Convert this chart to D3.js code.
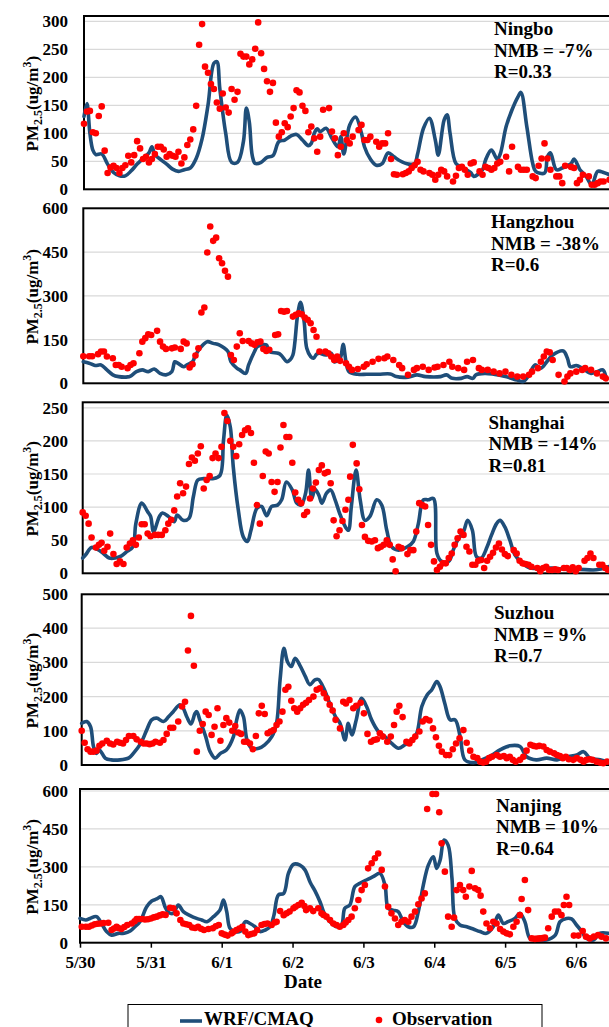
<!DOCTYPE html>
<html>
<head>
<meta charset="utf-8">
<script src="https://cdn.jsdelivr.net/npm/d3@7"></script>
<style>
body { margin: 0; background: #fff; }
svg text { font-family: "Liberation Serif", "Times New Roman", serif; font-weight: bold; fill: #000; }
</style>
</head>
<body>
<svg id="chart" width="609" height="1027"></svg>
<script>
// x values are hours after 5/30 00:00
const dateLabels = ["5/30", "5/31", "6/1", "6/2", "6/3", "6/4", "6/5", "6/6"];
const stations = ["Ningbo", "Hangzhou", "Shanghai", "Suzhou", "Nanjing"];
const nmbLabels = ["NMB = -7%", "NMB = -38%", "NMB = -14%", "NMB = 9%", "NMB = 10%"];
const rLabels = ["R=0.33", "R=0.6", "R=0.81", "R=0.7", "R=0.64"];
const yMax = [300, 600, 250, 500, 600];
const yStep = [50, 150, 50, 100, 150];

const ningboModel = [[0,130],[1,153],[2,100],[3,70],[4,62],[6,63],[8,45],[10,30],[12,24],[14,24],[16,33],[18,45],[20,55],[22,65],[23,76],[24,62],[26,53],[28,45],[30,36],[32,32],[34,35],[36,38],[38,55],[40,90],[42,150],[44,225],[45,228],[46,180],[48,100],[50,48],[52,48],[54,85],[55,145],[56,120],[57,60],[58,46],[60,48],[62,57],[64,60],[66,85],[68,88],[70,95],[72,98],[74,88],[76,78],[77,82],[78,100],[79,108],[80,103],[82,109],[84,91],[86,76],[87,94],[88,63],[90,115],[92,129],[94,100],[95,76],[97,54],[99,43],[101,46],[103,65],[105,58],[107,51],[110,45],[112,46],[113,63],[115,109],[117,127],[119,88],[120,61],[122,124],[123,133],[124,100],[126,46],[128,40],[131,30],[132,23],[135,35],[136,52],[138,70],[140,54],[141,63],[143,112],[145,142],[147,165],[148,173],[150,112],[152,46],[153,32],[156,29],[157,58],[158,65],[160,35],[162,38],[165,46],[166,54],[168,35],[170,24],[172,8],[174,32],[176,30],[178,26]];
const ningboObs = [[0,117],[1,139],[2,140],[3,102],[4,100],[5,131],[6,148],[7,69],[8,29],[9,39],[10,42],[11,38],[12,29],[13,38],[14,43],[15,60],[16,48],[17,61],[18,86],[19,73],[20,54],[21,58],[22,48],[23,54],[24,63],[25,76],[26,76],[27,71],[28,58],[29,63],[30,60],[31,58],[32,67],[33,46],[34,57],[35,79],[36,89],[37,107],[38,149],[39,258],[40,295],[41,219],[42,208],[43,188],[44,179],[45,155],[46,144],[47,171],[48,146],[49,137],[50,179],[51,160],[52,174],[53,242],[54,237],[55,237],[56,223],[57,232],[58,251],[59,298],[60,243],[61,215],[62,193],[63,174],[64,190],[65,119],[66,94],[67,102],[68,118],[69,111],[70,130],[71,145],[72,177],[73,173],[74,149],[75,140],[76,102],[77,112],[78,91],[79,67],[80,94],[81,142],[83,145],[84,103],[85,91],[86,61],[87,76],[88,100],[89,88],[90,82],[91,94],[93,106],[94,115],[95,88],[96,88],[97,94],[99,85],[100,76],[101,82],[102,82],[103,100],[104,54],[105,27],[106,26],[108,27],[109,29],[110,32],[111,38],[112,43],[113,49],[114,35],[115,32],[117,29],[118,26],[119,17],[120,26],[121,35],[122,32],[123,23],[125,14],[126,24],[127,38],[128,40],[129,35],[130,26],[131,46],[132,48],[134,32],[135,26],[136,40],[137,38],[138,35],[139,38],[140,46],[141,49],[143,58],[144,32],[145,76],[147,40],[148,35],[149,35],[150,35],[152,23],[153,20],[154,42],[155,55],[156,82],[157,55],[158,35],[160,23],[161,23],[162,11],[163,42],[165,40],[166,38],[167,11],[168,17],[169,26],[171,23],[172,8],[173,8],[174,11],[175,14],[176,14],[178,17]];

const hangzhouModel = [[0,74],[2,69],[4,61],[6,63],[8,46],[10,29],[12,23],[15,22],[16,25],[18,40],[20,46],[22,40],[24,49],[26,34],[28,29],[30,40],[31,74],[32,69],[34,57],[35,63],[37,74],[38,97],[40,126],[42,143],[44,137],[46,132],[49,109],[50,74],[52,52],[53,46],[55,34],[56,63],[58,109],[59,126],[62,132],[63,109],[66,103],[67,97],[69,74],[70,80],[71,97],[72.6,235],[73.6,278],[74.8,212],[75.7,120],[77,92],[78,86],[79,100],[80,103],[82,97],[84,103],[85,74],[87,86],[88,134],[89,74],[90,40],[93,31],[96,31],[100,31],[104,32],[106,23],[110,21],[113,29],[116,23],[121,23],[123,29],[125,17],[128,17],[130,23],[132,17],[133,29],[136,34],[139,31],[143,23],[147,11],[149,6],[151,29],[153,63],[155,52],[157,74],[159,97],[162.6,111],[164,86],[165,57],[167,61],[169,52],[172,34],[174,40],[176,46],[177,23]];
const hangzhouObs = [[0,93],[2,93],[3,93],[5,100],[6,109],[7,109],[8,92],[10,86],[11,63],[12,63],[13,57],[15,52],[16,63],[17,69],[19,103],[20,143],[21,155],[22,168],[23,166],[25,180],[26,143],[27,126],[28,118],[30,120],[31,123],[33,118],[34,143],[35,137],[36,54],[37,65],[38,95],[39,120],[40,243],[41,260],[42,449],[43,538],[44,489],[45,500],[46,429],[47,412],[48,386],[49,366],[50,97],[51,80],[52,126],[53,172],[54,145],[56,145],[57,137],[58,132],[59,141],[60,143],[61,118],[62,111],[63,115],[65,166],[66,168],[67,248],[68,246],[69,248],[71,229],[72,235],[73,240],[74,237],[75,226],[76,218],[77,206],[78,183],[79,160],[80,109],[82,109],[83,103],[84,92],[85,80],[86,92],[87,77],[89,69],[90,57],[91,46],[93,49],[95,57],[96,65],[98,74],[100,84],[102,86],[103,92],[105,80],[107,63],[108,52],[110,29],[112,46],[113,52],[115,57],[117,46],[119,54],[120,57],[122,63],[124,74],[125,57],[127,52],[129,46],[130,74],[132,80],[134,52],[135,46],[137,46],[139,40],[141,34],[143,40],[145,29],[147,23],[149,23],[151,29],[152,40],[154,52],[155,74],[156,92],[157,109],[158,106],[159,80],[161,29],[163,6],[164,23],[165,34],[167,40],[169,46],[170,52],[172,46],[174,34],[176,23],[177,17]];

const shanghaiModel = [[0,23],[1,28],[3,39],[5,36],[7,30],[9,23],[11,23],[13,26],[15,33],[17,40],[18,75],[20,106],[22,93],[23,86],[24,63],[26,86],[27,91],[29,86],[31,78],[32,88],[34,80],[36,83],[37.5,116],[39,141],[41,143],[44,143],[46.5,148],[47.7,201],[48.8,239],[50,221],[51,161],[52.7,96],[54.4,55],[55.8,48],[57,65],[59,98],[60.6,101],[62.3,87],[64,101],[66,103],[67.4,111],[69,138],[71,126],[72.5,106],[74,103],[75.5,121],[76.5,156],[77.6,113],[78.7,127],[80,118],[81,106],[82.6,121],[84,126],[85.5,111],[87,91],[89,70],[90,65],[91,101],[92.6,156],[94,111],[95.6,80],[97.3,86],[99.6,111],[101.3,103],[103,65],[104.7,40],[107,35],[110,40],[112,48],[113.7,75],[115.4,111],[117,111],[118.8,113],[120,30],[121.6,18],[124,18],[125.5,35],[127,50],[129,63],[130.4,80],[132,65],[133.4,25],[135,23],[137,40],[138.5,58],[140.2,75],[141.4,80],[143,70],[144.7,50],[146.4,28],[149,15],[151.5,8],[155,8],[159,8],[164,6],[168,6],[173,5],[175,6],[178,10]];
const shanghaiObs = [[0,92],[1,87],[2,75],[3,54],[4.5,39],[5.5,43],[6.4,46],[7.3,34],[8.4,40],[9.3,60],[10.4,29],[11.5,14],[12.6,18],[13.8,14],[14.9,39],[16,45],[17,50],[18,43],[19,54],[20,74],[21,74],[22,60],[23,56],[24.5,58],[25.6,58],[26.8,58],[28,65],[29,75],[30,81],[31,95],[32,116],[33,136],[34,121],[35,131],[36,165],[37,175],[38,170],[39,181],[40,192],[41,128],[42,141],[43,147],[44,174],[45,181],[46,174],[47,191],[48,242],[49,230],[50,200],[51,191],[52,177],[53,195],[54,209],[55,216],[56,219],[57,212],[58,167],[59,103],[60,75],[61,147],[62,184],[63,181],[64,138],[65,123],[66,138],[67,190],[68,224],[69,206],[70,206],[71,167],[72,122],[73,111],[74,106],[75,88],[76,93],[77,113],[78,128],[79,137],[80,156],[81,163],[82,151],[83,153],[84,136],[85,80],[86,56],[87,65],[88,79],[89,96],[90,111],[90.6,146],[91.5,194],[92.8,166],[93.7,127],[94.6,73],[95.6,55],[96.7,49],[97.9,48],[99,50],[100,38],[101,40],[102,43],[103,50],[104,43],[105,21],[106,3],[107,40],[108,38],[110,29],[111,35],[112,35],[113,63],[114,106],[115,103],[116,101],[117,73],[118,43],[119,18],[120,5],[121,10],[122,15],[123,15],[124,23],[125,30],[126,43],[127,53],[128,63],[129,58],[130,40],[131,33],[132,13],[133,13],[134,19],[135,20],[136,8],[137,19],[138,25],[139,31],[140,39],[141,45],[142,36],[143,29],[144,26],[146,35],[147,30],[148,19],[149,15],[150,14],[151,13],[152,10],[154,8],[155,3],[156,8],[157,10],[158,5],[159,5],[160,6],[161,5],[163,8],[164,8],[165,5],[166,9],[167,3],[168,8],[170,19],[171,23],[172,30],[173,23],[175,13],[176,13],[177,8],[178,5]];

const suzhouModel = [[0,122],[1.7,127],[3,112],[4,54],[5,34],[6,44],[8,20],[10,15],[13,15],[16,21],[17.5,34],[20,63],[22,102],[23.7,132],[25.4,137],[27.7,127],[29.4,141],[31,156],[33.3,176],[34.4,166],[35.6,141],[37,120],[38.4,151],[39,156],[40,132],[42,83],[43.5,39],[45.2,20],[47,34],[49,44],[51.4,83],[52.5,132],[53.6,161],[54.8,141],[56,73],[57.6,49],[60,49],[62,59],[64.4,83],[66,122],[67.2,249],[68.5,341],[69.7,302],[71,288],[72.3,312],[74,290],[75.7,260],[77.3,235],[79,249],[80.2,250],[82,224],[84,180],[86,141],[87.5,122],[89.2,73],[90.3,122],[91.5,88],[93,132],[94.8,195],[96.5,171],[98.2,132],[100.5,98],[102.7,83],[105,63],[107.3,49],[109.5,59],[111.8,73],[113.5,93],[115.2,171],[117,205],[118.6,220],[120.3,244],[121.4,229],[123,180],[124.8,132],[126.5,132],[128.2,83],[129.8,15],[132.7,7],[135.5,15],[139,29],[141.7,44],[145,56],[148.5,54],[150.7,24],[154,15],[157.5,20],[161,15],[164.3,24],[167.7,29],[170,39],[172.2,20],[175.6,15],[178.4,7]];
const suzhouObs = [[0,100],[1,65],[2,46],[3,39],[4,39],[5,42],[6,56],[7,63],[8.5,71],[9.6,63],[10.7,60],[12,68],[13,65],[14,63],[15,73],[16,85],[17.5,85],[18.6,75],[20,68],[21,63],[22,63],[23,61],[24,63],[25,68],[26.5,65],[27.7,73],[28.8,91],[30,109],[31,109],[32.7,127],[34,171],[35,185],[36,335],[37,436],[38,290],[39,39],[40,100],[41,120],[42,156],[43,146],[44,88],[45,112],[46,166],[47,71],[48,117],[49,137],[50,124],[51,100],[52,114],[53,95],[54,91],[55,68],[56,68],[57,63],[58,46],[59,85],[60,151],[61,173],[62,149],[63,93],[64,98],[65,102],[66,117],[67,127],[68,156],[69,220],[70,229],[71,188],[72,166],[73,156],[74,166],[75,176],[76,182],[77,190],[78.5,200],[79.6,220],[80.7,224],[82,210],[83,195],[84,176],[85,159],[86,132],[87.5,107],[88.6,185],[89.5,180],[90.7,190],[92,166],[93,173],[94.5,182],[95.6,151],[96.8,91],[98,68],[99,73],[100,75],[101,93],[102,83],[103.5,68],[104.7,83],[105.8,117],[106.7,156],[107.6,173],[108.7,140],[110,68],[111,63],[112,73],[113,83],[114.4,98],[115.5,127],[116.6,134],[117.8,130],[119,107],[120,81],[121,56],[122,39],[123.4,29],[124.5,29],[125.7,46],[126.8,63],[128,78],[129.3,102],[130.4,65],[131.6,42],[132.7,24],[134,20],[135,10],[136,7],[137,10],[138,20],[139,24],[140.6,29],[141.7,24],[143,26],[144,20],[145,24],[146,15],[147,10],[148.5,15],[149.6,24],[150.7,42],[152,59],[153,56],[154,54],[155,56],[156.4,54],[157.5,44],[158.6,39],[160,34],[161,29],[162,26],[163,20],[164,24],[165,17],[166.5,15],[167.7,20],[169,15],[170,10],[171,15],[172,17],[173,15],[174.4,10],[175.6,7],[176.7,5],[178,10]];

const nanjingModel = [[0,96],[2,90],[3.4,96],[5.6,103],[7.3,76],[9,44],[10.7,30],[13,37],[15,37],[17,46],[18.6,63],[20.3,83],[22.6,142],[24.3,165],[26,173],[27.4,182],[28.8,142],[30,120],[31.6,116],[33.3,149],[35,123],[37.3,107],[39.5,96],[41.2,90],[43,83],[45.2,103],[47.4,129],[48.6,169],[49.7,123],[50.8,57],[52.5,44],[54.2,44],[56,83],[57.6,76],[59.3,63],[61,44],[62.7,50],[64.4,63],[65.7,109],[67.2,189],[69,195],[70.6,274],[72.3,310],[74.5,307],[76.2,288],[78,238],[79.6,205],[81.3,162],[83,109],[84.7,83],[87,63],[88.6,70],[89.7,136],[91.4,149],[93.1,222],[94.8,235],[97,248],[99.3,261],[101.6,274],[103.3,228],[104.4,136],[106,129],[107.8,123],[109.5,83],[111.2,63],[113,63],[114.6,123],[116.3,228],[118,307],[119.7,340],[120.8,294],[122,327],[123.3,406],[124.7,386],[126,255],[127,96],[128.7,70],[131,63],[133.2,54],[135.5,44],[137.7,37],[140,63],[141.7,109],[143.4,76],[145,83],[147.3,96],[149,116],[150.7,83],[152.4,17],[154.7,11],[158,11],[161,30],[162.6,83],[164.8,96],[166.5,94],[168.2,70],[170,44],[171.6,17],[174,11],[176,37],[179,37]];
const nanjingObs = [[0.6,63],[2,63],[3,63],[4,68],[5,73],[6,75],[7,76],[8,78],[9.6,79],[10.7,50],[11.5,56],[12.4,63],[13,58],[14,54],[15,62],[16,70],[17.5,76],[18.5,85],[19.2,94],[20,94],[21,94],[22,92],[23,93],[24,96],[25,100],[26,103],[27,108],[28,112],[29,110],[30.5,138],[31.6,136],[32.7,116],[34,90],[35,76],[36,73],[37,70],[38,60],[39,58],[40,63],[41,55],[42,50],[43.5,54],[45,57],[46,65],[47,70],[48,37],[49,32],[50,28],[51.4,37],[52,43],[53,50],[54,56],[55,63],[56,44],[57,30],[58,34],[59,37],[60,50],[61.5,70],[62.5,74],[63.5,76],[64.9,70],[66,80],[66.6,83],[67.8,125],[69,109],[70,116],[71,123],[72.3,136],[73,142],[74,149],[75.1,158],[76,145],[76.6,129],[77.9,136],[79,125],[80.7,136],[81.8,116],[82.5,110],[83.5,103],[84.7,90],[85.8,76],[86.9,70],[88,63],[89.2,70],[90,80],[90.9,90],[92,103],[93.1,136],[94.3,169],[95.4,208],[96.5,228],[97.6,294],[98.8,314],[99.9,334],[101,353],[102.2,288],[103.3,222],[104.4,142],[105.5,116],[106.7,96],[107.8,70],[108.9,83],[110,90],[111.2,83],[112.3,103],[113.5,123],[114.6,152],[115.7,175],[116.8,195],[117.6,529],[119.4,588],[120.6,588],[121.7,516],[122.5,393],[123.6,281],[124.7,103],[125.9,63],[126.7,99],[127.6,208],[128.7,228],[129.8,208],[130.7,182],[131.9,222],[132.7,284],[133.8,215],[134.9,208],[135.7,186],[136.6,123],[137.7,76],[138.9,57],[140,83],[141.1,76],[142.3,54],[143.4,44],[144.5,37],[145.6,33],[146.8,63],[147.9,83],[149,109],[149.6,173],[150.7,248],[151.8,129],[153,17],[154.1,15],[155,16],[155.8,17],[156.7,18],[157.5,20],[158.6,57],[159.8,103],[160.9,123],[162,123],[163.1,109],[163.9,149],[164.8,182],[165.7,149],[167.3,28],[168.8,28],[170.3,46],[171.4,24],[172.7,17],[174.1,24],[175.5,30],[176.7,24],[178.2,17]];

const modelSeries = [ningboModel, hangzhouModel, shanghaiModel, suzhouModel, nanjingModel];
const obsSeries = [ningboObs, hangzhouObs, shanghaiObs, suzhouObs, nanjingObs];

// panel placement in the page (pixels)
const panels = [
    { left: 84,   frameTop: 16,    top: 21.3,  bottom: 189.3, textX: 494, textY: 35 },
    { left: 83.3, frameTop: 208.3, top: 208.5, bottom: 383.3, textX: 491, textY: 228 },
    { left: 82.7, frameTop: 402.3, top: 407.8, bottom: 573.3, textX: 488.5, textY: 428.5 },
    { left: 81.7, frameTop: 594.3, top: 594,   bottom: 765,   textX: 494, textY: 619 },
    { left: 80,   frameTop: 789,   top: 791,   bottom: 942.7, textX: 496, textY: 811.7 }
];
const plotRight = 612;
const pxPerHour = 70.85 / 24;
const modelColor = "#1f4e79";
const obsColor = "#ff0000";

const svg = d3.select("#chart");

panels.forEach((p, i) => {
    const g = svg.append("g");
    const hoursShown = (plotRight - p.left) / pxPerHour;

    const x = d3.scaleLinear().domain([0, hoursShown]).range([p.left, plotRight]);
    const y = d3.scaleLinear().domain([0, yMax[i]]).range([p.bottom, p.top]);
    const ticks = d3.range(0, yMax[i] + 1, yStep[i]);

    // gridlines
    g.selectAll(".grid")
        .data(ticks.filter(t => t > 0))
        .enter().append("line")
        .attr("x1", p.left).attr("x2", plotRight)
        .attr("y1", d => y(d)).attr("y2", d => y(d))
        .attr("stroke", "#d9d9d9")
        .attr("stroke-width", 1.2);

    // y axis labels
    const yAxis = g.append("g")
        .attr("transform", `translate(${p.left},0)`)
        .call(d3.axisLeft(y).tickValues(ticks).tickSize(0).tickPadding(p.left - 68));
    yAxis.select(".domain").remove();
    yAxis.selectAll("text")
        .style("font-size", "17px")
        .attr("font-family", null);

    // frame
    g.append("rect")
        .attr("x", p.left).attr("y", p.frameTop)
        .attr("width", plotRight - p.left)
        .attr("height", p.bottom - p.frameTop)
        .attr("fill", "none")
        .attr("stroke", "#000")
        .attr("stroke-width", 2);

    // model line
    const line = d3.line()
        .x(d => x(d[0]))
        .y(d => y(d[1]))
        .curve(d3.curveCatmullRom.alpha(0.5));

    g.append("path")
        .datum(modelSeries[i])
        .attr("d", line)
        .attr("fill", "none")
        .attr("stroke", modelColor)
        .attr("stroke-width", 3.6)
        .attr("stroke-linejoin", "round")
        .attr("stroke-linecap", "round");

    // observations
    g.selectAll(".obs")
        .data(obsSeries[i])
        .enter().append("circle")
        .attr("cx", d => x(d[0]))
        .attr("cy", d => y(d[1]))
        .attr("r", 3.3)
        .attr("fill", obsColor);

    // station text
    const lines = [stations[i], nmbLabels[i], rLabels[i]];
    lines.forEach((t, k) => {
        g.append("text")
            .attr("x", p.textX)
            .attr("y", p.textY + k * 21.6)
            .style("font-size", "19px")
            .text(t);
    });

    // y title
    const cy = (p.frameTop + p.bottom) / 2 + 1;
    const title = g.append("text")
        .attr("transform", `translate(38,${cy}) rotate(-90)`)
        .attr("text-anchor", "middle")
        .style("font-size", "17px");
    title.append("tspan").text("PM");
    title.append("tspan").attr("dy", 4).style("font-size", "12px").text("2.5");
    title.append("tspan").attr("dy", -4).text("(ug/m");
    title.append("tspan").attr("dy", -7).style("font-size", "12px").text("3");
    title.append("tspan").attr("dy", 7).text(")");

    // x axis only on the bottom panel
    if (i === panels.length - 1) {
        const xAxis = g.append("g")
            .attr("transform", `translate(0,${p.bottom})`)
            .call(d3.axisBottom(x)
                .tickValues(dateLabels.map((d, k) => k * 24))
                .tickFormat((d, k) => dateLabels[k])
                .tickSize(5)
                .tickPadding(8));
        xAxis.select(".domain").remove();
        xAxis.selectAll("line").attr("stroke", "#000").attr("stroke-width", 1.5);
        xAxis.selectAll("text").style("font-size", "17px").attr("font-family", null);

        g.append("text")
            .attr("x", 303).attr("y", 988)
            .attr("text-anchor", "middle")
            .style("font-size", "19px")
            .text("Date");
    }
});

// legend
const legend = svg.append("g");
legend.append("rect")
    .attr("x", 128).attr("y", 1004.5)
    .attr("width", 414).attr("height", 40)
    .attr("fill", "#fff")
    .attr("stroke", "#000")
    .attr("stroke-width", 1);
legend.append("line")
    .attr("x1", 180).attr("x2", 202)
    .attr("y1", 1021).attr("y2", 1021)
    .attr("stroke", modelColor)
    .attr("stroke-width", 3.6);
legend.append("text")
    .attr("x", 204).attr("y", 1025)
    .style("font-size", "19px")
    .text("WRF/CMAQ");
legend.append("circle")
    .attr("cx", 379).attr("cy", 1020)
    .attr("r", 3.3)
    .attr("fill", obsColor);
legend.append("text")
    .attr("x", 392).attr("y", 1025)
    .style("font-size", "19px")
    .text("Observation");
</script>
</body>
</html>
